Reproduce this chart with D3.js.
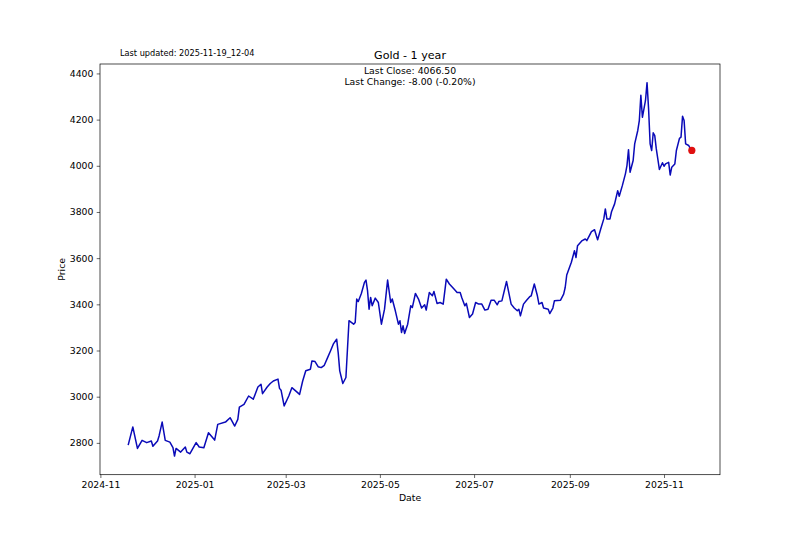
<!DOCTYPE html>
<html>
<head>
<meta charset="utf-8">
<script src="https://cdn.jsdelivr.net/npm/d3@7"></script>
<style>
  body { margin: 0; background: #fff; }
  text { font-family: "DejaVu Sans", sans-serif; }
</style>
</head>
<body>
<script>
// gold closes (approximate)
const dates = [
  "2024-11-19","2024-11-22","2024-11-25","2024-11-28",
  "2024-12-01","2024-12-04","2024-12-05","2024-12-08","2024-12-09","2024-12-11","2024-12-13","2024-12-16","2024-12-18","2024-12-19","2024-12-20","2024-12-23","2024-12-26","2024-12-27","2024-12-29",
  "2025-01-02","2025-01-04","2025-01-07","2025-01-10","2025-01-14","2025-01-16","2025-01-21","2025-01-24","2025-01-27","2025-01-29","2025-01-30",
  "2025-02-02","2025-02-05","2025-02-08","2025-02-11","2025-02-13","2025-02-14","2025-02-17","2025-02-19","2025-02-21","2025-02-24","2025-02-25","2025-02-26","2025-02-28",
  "2025-03-03","2025-03-05","2025-03-08","2025-03-10","2025-03-12","2025-03-14","2025-03-17","2025-03-18","2025-03-20","2025-03-22","2025-03-24","2025-03-26","2025-03-28","2025-03-30",
  "2025-04-01","2025-04-03","2025-04-04","2025-04-05","2025-04-07","2025-04-09","2025-04-11","2025-04-14","2025-04-15","2025-04-16","2025-04-17","2025-04-19","2025-04-21","2025-04-22","2025-04-23","2025-04-24","2025-04-25","2025-04-26","2025-04-28","2025-04-30",
  "2025-05-02","2025-05-04","2025-05-06","2025-05-08","2025-05-09","2025-05-11","2025-05-13","2025-05-14","2025-05-15","2025-05-16","2025-05-17","2025-05-19","2025-05-21","2025-05-22","2025-05-24","2025-05-26","2025-05-28","2025-05-30","2025-05-31",
  "2025-06-02","2025-06-04","2025-06-05","2025-06-07","2025-06-09","2025-06-11","2025-06-13","2025-06-15","2025-06-18","2025-06-20","2025-06-22","2025-06-23","2025-06-25","2025-06-26","2025-06-28","2025-06-30",
  "2025-07-02","2025-07-04","2025-07-06","2025-07-08","2025-07-10","2025-07-12","2025-07-14","2025-07-16","2025-07-17","2025-07-19","2025-07-22","2025-07-25","2025-07-27","2025-07-29","2025-07-30","2025-07-31",
  "2025-08-02","2025-08-04","2025-08-06","2025-08-07","2025-08-09","2025-08-11","2025-08-12","2025-08-14","2025-08-15","2025-08-18","2025-08-19","2025-08-21","2025-08-22","2025-08-26","2025-08-28","2025-08-29","2025-08-30",
  "2025-09-02","2025-09-04","2025-09-05","2025-09-06","2025-09-09","2025-09-11","2025-09-12","2025-09-15","2025-09-17","2025-09-19","2025-09-21","2025-09-23","2025-09-24","2025-09-25","2025-09-27","2025-09-28","2025-09-30",
  "2025-10-02","2025-10-03","2025-10-05","2025-10-07","2025-10-08","2025-10-09","2025-10-10","2025-10-12","2025-10-13","2025-10-15","2025-10-16","2025-10-17","2025-10-18","2025-10-20","2025-10-21","2025-10-22","2025-10-23","2025-10-24","2025-10-25","2025-10-26","2025-10-27","2025-10-29","2025-10-31",
  "2025-11-01","2025-11-02","2025-11-04","2025-11-05","2025-11-06","2025-11-08","2025-11-09","2025-11-11","2025-11-12","2025-11-13","2025-11-14","2025-11-15","2025-11-17","2025-11-18","2025-11-19"
];

const prices = [
  2790,2869,2776,2811,
  2801,2808,2785,2808,2830,2890,2811,2803,2779,2743,2776,2760,2782,2760,2753,
  2801,2782,2779,2844,2812,2880,2890,2909,2873,2902,2955,
  2967,3003,2989,3042,3054,3013,3042,3057,3068,3076,3036,3028,2960,
  3003,3039,3022,3010,3068,3112,3119,3155,3152,3130,3126,3136,3167,3198,
  3230,3249,3191,3112,3057,3083,3329,3314,3321,3423,3412,3447,3495,3505,3459,3379,3430,3394,3427,3408,
  3314,3379,3505,3408,3423,3372,3314,3329,3278,3307,3274,3314,3394,3386,3447,3423,3384,3398,3375,
  3451,3437,3456,3404,3408,3401,3509,3488,3466,3451,3451,3430,3394,3404,3343,3358,
  3408,3401,3401,3375,3379,3418,3418,3398,3412,3415,3499,3401,3384,3372,3379,3350,
  3401,3418,3433,3437,3488,3437,3401,3408,3384,3379,3360,3384,3415,3418,3444,3473,3527,
  3582,3632,3603,3654,3676,3683,3676,3715,3723,3680,3726,3770,3813,3770,3770,3801,3835,
  3892,3868,3914,3965,4001,4070,3972,4023,4095,4153,4196,4305,4210,4283,4360,4247,4095,4066,4143,4131,4073,3984,4013,
  3998,4008,4015,3960,3994,4008,4066,4119,4124,4215,4196,4095,4088,4074.5,4066.5
];

const yTicks = [2800, 3000, 3200, 3400, 3600, 3800, 4000, 4200, 4400];

const title = "Gold - 1 year";
const updated = "Last updated: 2025-11-19_12-04";
const lastClose = "Last Close: 4066.50";
const lastChange = "Last Change: -8.00 (-0.20%)";

let width = 800,
    height = 533;
let margin = {left: 100, right: 80, top: 64, bottom: 58.3};

let parse = d3.timeParse("%Y-%m-%d");
let data = dates.map((d, i) => ({date: parse(d), price: prices[i]}));

let svg = d3.select("body").append("svg")
    .attr("width", width)
    .attr("height", height);

svg.append("rect").attr("width", width).attr("height", height).attr("fill", "#fff");

// matplotlib style 5% padding
let xExt = d3.extent(data, d => d.date);
let xPad = (xExt[1] - xExt[0]) * 0.05;
let x = d3.scaleTime()
    .domain([new Date(+xExt[0] - xPad), new Date(+xExt[1] + xPad)])
    .range([margin.left, width - margin.right]);

let yExt = d3.extent(prices);
let yPad = (yExt[1] - yExt[0]) * 0.05;
let y = d3.scaleLinear()
    .domain([yExt[0] - yPad, yExt[1] + yPad])
    .range([height - margin.bottom, margin.top]);

let fs = 9.3;

let xAxis = svg.append("g")
    .attr("transform", `translate(0,${height - margin.bottom})`)
    .call(d3.axisBottom(x)
        .ticks(d3.timeMonth.every(2))
        .tickFormat(d3.timeFormat("%Y-%m"))
        .tickSize(3.3)
        .tickPadding(3.3));

let yAxis = svg.append("g")
    .attr("transform", `translate(${margin.left},0)`)
    .call(d3.axisLeft(y)
        .tickValues(yTicks)
        .tickFormat(d3.format("d"))
        .tickSize(3.3)
        .tickPadding(3.3));

[xAxis, yAxis].forEach(a => {
    a.select(".domain").remove();
    a.selectAll("line").attr("stroke", "#000").attr("stroke-width", 0.6);
    a.selectAll("text").attr("fill", "#000").style("font-size", fs + "px")
        .style("font-family", "DejaVu Sans");
});

// frame
svg.append("rect")
    .attr("x", margin.left)
    .attr("y", margin.top)
    .attr("width", width - margin.left - margin.right)
    .attr("height", height - margin.top - margin.bottom)
    .attr("fill", "none")
    .attr("stroke", "#000")
    .attr("stroke-width", 0.7);

let line = d3.line()
    .x(d => x(d.date))
    .y(d => y(d.price));

svg.append("path")
    .datum(data)
    .attr("d", line)
    .attr("fill", "none")
    .attr("stroke", "#0a0ab8")
    .attr("stroke-width", 1.5)
    .attr("stroke-linejoin", "round");

let last = data[data.length - 1];
svg.append("circle")
    .attr("cx", x(last.date))
    .attr("cy", y(last.price))
    .attr("r", 3.6)
    .attr("fill", "#e01010");

// texts
let cx = (margin.left + width - margin.right) / 2;

svg.append("text")
    .attr("x", cx).attr("y", 59)
    .attr("text-anchor", "middle")
    .style("font-size", "11.1px")
    .text(title);

svg.append("text")
    .attr("x", 120).attr("y", 55.5)
    .style("font-size", "8.2px")
    .text(updated);

svg.append("text")
    .attr("x", cx).attr("y", 73.5)
    .attr("text-anchor", "middle")
    .style("font-size", fs + "px")
    .text(lastClose);

svg.append("text")
    .attr("x", cx).attr("y", 84.5)
    .attr("text-anchor", "middle")
    .style("font-size", fs + "px")
    .text(lastChange);

svg.append("text")
    .attr("x", cx).attr("y", 501)
    .attr("text-anchor", "middle")
    .style("font-size", fs + "px")
    .text("Date");

svg.append("text")
    .attr("transform", `translate(65,${(margin.top + height - margin.bottom) / 2}) rotate(-90)`)
    .attr("text-anchor", "middle")
    .style("font-size", fs + "px")
    .text("Price");
</script>
</body>
</html>
